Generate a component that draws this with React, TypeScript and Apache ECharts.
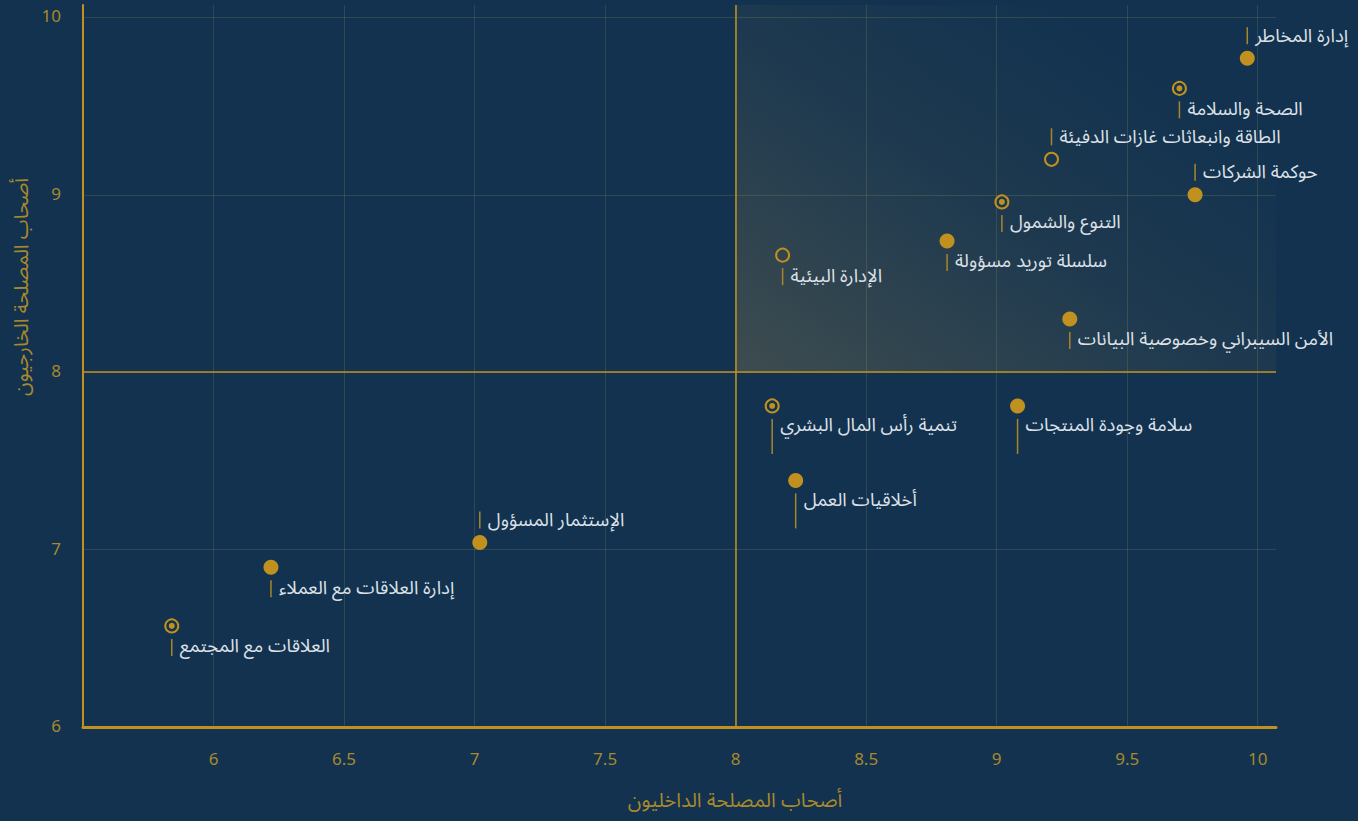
import React, { useEffect, useRef } from "react";
import * as echarts from "echarts";

// ---- data ----
const topics = [
  "إدارة المخاطر",
  "الصحة والسلامة",
  "الطاقة وانبعاثات غازات الدفيئة",
  "حوكمة الشركات",
  "التنوع والشمول",
  "سلسلة توريد مسؤولة",
  "الإدارة البيئية",
  "الأمن السيبراني وخصوصية البيانات",
  "سلامة وجودة المنتجات",
  "تنمية رأس المال البشري",
  "أخلاقيات العمل",
  "الإستثمار المسؤول",
  "إدارة العلاقات مع العملاء",
  "العلاقات مع المجتمع",
];
const internalScores = [9.96, 9.7, 9.21, 9.76, 9.02, 8.81, 8.18, 9.28, 9.08, 8.14, 8.23, 7.02, 6.22, 5.84];
const externalScores = [9.77, 9.6, 9.2, 9.0, 8.96, 8.74, 8.66, 8.3, 7.81, 7.81, 7.39, 7.04, 6.9, 6.57];
// g = governance/economic (filled), s = social (ring with dot), e = environmental (ring)
const groups = ["g", "s", "e", "g", "s", "g", "e", "g", "g", "s", "g", "g", "g", "s"];
const labelPlacement = [
  "above", "below", "above", "above", "below", "below", "below",
  "below", "belowLong", "belowLong", "belowLong", "above", "below", "below",
];
const xTicks = { min: 5.5, max: 10.07, interval: 0.5 };
const yTicks = { min: 6, max: 10.07, interval: 1 };
const threshold = 8;
const xAxisTitle = "أصحاب المصلحة الداخليون";
const yAxisTitle = "أصحاب المصلحة الخارجيون";

const GOLD = "#c0911f";
const BG = "#12324f";
const FONT = "'Noto Sans Arabic', 'DejaVu Sans', 'Noto Sans', sans-serif";

function pointsOf(g: string) {
  const out: number[][] = [];
  topics.forEach((_, i) => {
    if (groups[i] === g) out.push([internalScores[i], externalScores[i], i]);
  });
  return out;
}

export default function App() {
  const ref = useRef<HTMLDivElement>(null);
  useEffect(() => {
    document.body.style.margin = "0";
    document.body.style.background = BG;
    if (!ref.current) return;
    const chart = echarts.init(ref.current, undefined, { renderer: "svg" });
    const allPoints = topics.map((_, i) => [internalScores[i], externalScores[i], i]);
    chart.setOption({
      animation: false,
      backgroundColor: BG,
      grid: { left: 83, right: 82, top: 5, bottom: 94 },
      xAxis: {
        type: "value",
        min: xTicks.min,
        max: xTicks.max,
        interval: xTicks.interval,
        axisLine: { show: true, lineStyle: { color: GOLD, width: 3 } },
        axisTick: { show: false },
        axisLabel: {
          color: "#a8892c",
          fontSize: 17,
          fontFamily: FONT,
          margin: 24,
          showMinLabel: false,
          showMaxLabel: false,
        },
        splitLine: {
          show: true,
          showMinLine: false,
          showMaxLine: false,
          lineStyle: { color: "rgba(190,170,110,0.18)", width: 1 },
        },
      },
      yAxis: {
        type: "value",
        min: yTicks.min,
        max: yTicks.max,
        interval: yTicks.interval,
        axisLine: { show: true, lineStyle: { color: GOLD, width: 2 } },
        axisTick: { show: false },
        axisLabel: {
          color: "#a8892c",
          fontSize: 17,
          fontFamily: FONT,
          margin: 22,
          showMaxLabel: false,
        },
        splitLine: {
          show: true,
          showMinLine: false,
          showMaxLine: false,
          lineStyle: { color: "rgba(190,170,110,0.18)", width: 1 },
        },
      },
      graphic: [
        {
          type: "text",
          x: 735,
          y: 801,
          style: {
            text: xAxisTitle,
            fill: "#a8892c",
            font: `20px ${FONT}`,
            align: "center",
            verticalAlign: "middle",
          },
        },
        {
          type: "text",
          x: 22,
          y: 287,
          rotation: Math.PI / 2,
          style: {
            text: yAxisTitle,
            fill: "#a8892c",
            font: `20px ${FONT}`,
            align: "center",
            verticalAlign: "middle",
          },
        },
      ],
      series: [
        {
          type: "scatter",
          name: "area",
          data: [],
          silent: true,
          z: 1,
          markArea: {
            silent: true,
            itemStyle: {
              color: {
                type: "linear",
                x: 0,
                y: 1,
                x2: 1,
                y2: 0,
                colorStops: [
                  { offset: 0, color: "rgba(200,160,80,0.24)" },
                  { offset: 0.45, color: "rgba(200,160,80,0.07)" },
                  { offset: 0.8, color: "rgba(200,160,80,0.0)" },
                ],
              },
            },
            data: [[{ xAxis: threshold, yAxis: threshold }, { xAxis: xTicks.max, yAxis: yTicks.max }]],
          },
          markLine: {
            silent: true,
            symbol: "none",
            label: { show: false },
            lineStyle: { color: GOLD, width: 1.5, type: "solid" },
            data: [{ xAxis: threshold }, { yAxis: threshold }],
          },
        },
        {
          type: "scatter",
          name: "governance",
          data: pointsOf("g"),
          symbol: "circle",
          symbolSize: 15,
          itemStyle: { color: GOLD, opacity: 1 },
          z: 5,
        },
        {
          type: "scatter",
          name: "environment",
          data: pointsOf("e"),
          symbol: "circle",
          symbolSize: 13,
          itemStyle: { color: "rgba(0,0,0,0)", borderColor: GOLD, borderWidth: 2, opacity: 1 },
          z: 5,
        },
        {
          type: "scatter",
          name: "social",
          data: pointsOf("s"),
          symbol: "circle",
          symbolSize: 13,
          itemStyle: { color: "rgba(0,0,0,0)", borderColor: GOLD, borderWidth: 2, opacity: 1 },
          z: 5,
        },
        {
          type: "scatter",
          name: "social-dot",
          data: pointsOf("s"),
          symbol: "circle",
          symbolSize: 6,
          itemStyle: { color: GOLD, opacity: 1 },
          z: 6,
        },
        {
          type: "custom",
          name: "labels",
          data: allPoints,
          z: 7,
          silent: true,
          renderItem: (params: any, api: any) => {
            const i = api.value(2);
            const p = api.coord([api.value(0), api.value(1)]);
            const place = labelPlacement[i];
            let y1: number, y2: number, ty: number;
            if (place === "above") {
              y1 = p[1] - 31;
              y2 = p[1] - 14;
              ty = p[1] - 22;
            } else if (place === "belowLong") {
              y1 = p[1] + 13;
              y2 = p[1] + 48;
              ty = p[1] + 20;
            } else {
              y1 = p[1] + 13;
              y2 = p[1] + 30;
              ty = p[1] + 21;
            }
            return {
              type: "group",
              children: [
                {
                  type: "line",
                  shape: { x1: p[0], y1, x2: p[0], y2 },
                  style: { stroke: "#a8862a", lineWidth: 1.5 },
                },
                {
                  type: "text",
                  x: p[0] + 8,
                  y: ty,
                  style: {
                    text: topics[i],
                    fill: "#dde1e7",
                    font: `18.5px ${FONT}`,
                    align: "left",
                    verticalAlign: "middle",
                  },
                },
              ],
            };
          },
        },
      ],
    });
    return () => chart.dispose();
  }, []);
  return <div ref={ref} style={{ width: 1358, height: 821 }} />;
}
